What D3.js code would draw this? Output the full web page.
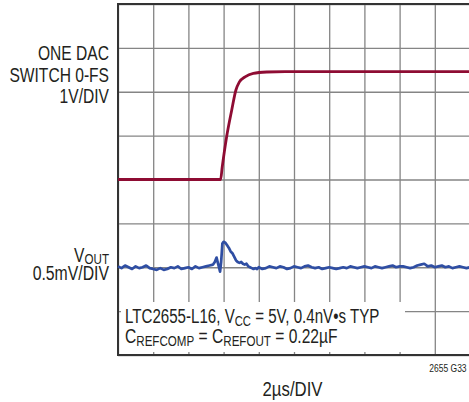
<!DOCTYPE html>
<html>
<head>
<meta charset="utf-8">
<script src="https://cdn.jsdelivr.net/npm/d3@7"></script>
<style>
  html, body { margin: 0; padding: 0; background: #fff; }
  svg { display: block; }
  text { font-family: "Liberation Sans", Arial, sans-serif; fill: #231f20; }
</style>
</head>
<body>
<svg id="chart" width="469" height="402"></svg>
<script>
// ---- Data ----
// time axis: 2 µs/DIV, 10 divisions
const xTickValues = [0, 2, 4, 6, 8, 10, 12, 14, 16, 18, 20];
// DAC switch trace (V, 1V/DIV, relative to initial level)
const redTime = [0, 5.83, 5.92, 6.17, 6.46, 6.7, 6.89, 7.22, 7.69, 8.45, 9.5, 20];
const redVolt = [0, 0, 0.28, 0.97, 1.58, 2.04, 2.22, 2.34, 2.42, 2.45, 2.46, 2.46];
// VOUT trace (mV, 0.5mV/DIV, relative)
const blueTime = [
  0, 0.2, 0.4, 0.6, 0.8, 1.0, 1.2, 1.4, 1.6, 1.8, 2.0, 2.2, 2.4, 2.6, 2.8, 3.0, 3.2, 3.4, 3.6, 3.8,
  4.0, 4.2, 4.4, 4.6, 4.8, 5.0, 5.2, 5.4,
  5.5, 5.6, 5.7, 5.8, 5.86, 5.93, 6.0, 6.1, 6.2, 6.3, 6.4, 6.5, 6.6, 6.7, 6.8, 6.9, 7.0, 7.1, 7.2,
  7.3, 7.4, 7.5, 7.6, 7.7, 7.8, 7.9,
  8.0, 8.2, 8.4, 8.6, 8.8, 9.0, 9.2, 9.4, 9.6, 9.8, 10.0, 10.2, 10.4, 10.6, 10.8, 11.0, 11.2, 11.4,
  11.6, 11.8, 12.0, 12.2, 12.4, 12.6, 12.8, 13.0, 13.2, 13.4, 13.6, 13.8, 14.0, 14.2, 14.4, 14.6,
  14.8, 15.0, 15.2, 15.4, 15.6, 15.8, 16.0, 16.2, 16.4, 16.6, 16.8, 17.0, 17.2, 17.4, 17.6, 17.8,
  18.0, 18.2, 18.4, 18.6, 18.8, 19.0, 19.2, 19.4, 19.6, 19.8, 20.0
];
const blueMv = [
  0.01, -0.01, 0.02, 0, -0.02, 0.01, -0.01, 0, 0.02, -0.01, -0.02, -0.03, -0.01, -0.03, -0.02, 0, -0.01, 0.01, -0.02, -0.01,
  0, -0.02, 0.01, -0.01, 0, 0.01, 0.02, 0.03,
  0.06, 0.11, 0.03, -0.05, 0.06, 0.27, 0.29, 0.28, 0.25, 0.22, 0.18, 0.16, 0.12, 0.08, 0.06, 0.05, 0.06, 0.04, 0.03,
  0.04, 0.01, 0.0, -0.01, -0.02, -0.01, -0.02,
  0, -0.02, -0.01, 0.01, 0, -0.01, 0.01, 0, -0.02, -0.01, 0.01, 0, -0.01, 0.01, 0.02, 0, -0.01, 0,
  -0.02, -0.01, 0, -0.01, -0.02, -0.01, 0, -0.01, 0.01, 0, -0.01, 0, 0.01, 0, -0.01, 0.01,
  0, -0.01, 0, 0.01, 0.02, 0, 0.01, 0.01, 0, -0.01, 0, 0.02, 0.03, 0.04, 0.01, 0.02,
  0, 0.01, 0.02, 0, 0.01, -0.01, 0, 0.01, 0, -0.01, 0
];
const yDivValues = [0, 1, 2, 3, 4, 5, 6, 7, 8];

const topLabel = ["ONE DAC", "SWITCH 0-FS", "1V/DIV"];
const xLabel = "2µs/DIV";
const figId = "2655 G33";

// ---- Layout ----
const svg = d3.select("#chart");
const L = 118, R = 470, T = 4, B = 355;

const x = d3.scaleLinear().domain([0, 20]).range([L, R]);
const yDiv = d3.scaleLinear().domain([0, 8]).range([B, T]);
const yRed = d3.scaleLinear().domain([-4, 4]).range([B, T]);   // 1V/DIV
const yBlue = d3.scaleLinear().domain([-1, 3]).range([B, T]);  // 0.5mV/DIV

const gridColor = "#858585";

// vertical grid
const gx = svg.append("g").attr("transform", `translate(0,${B})`)
  .call(d3.axisBottom(x).tickValues(xTickValues).tickSize(-(B - T)).tickFormat(""));
gx.select(".domain").remove();
gx.selectAll("line").attr("stroke", gridColor).attr("stroke-width", 1.3);

// horizontal grid
const gy = svg.append("g").attr("transform", `translate(${L},0)`)
  .call(d3.axisLeft(yDiv).tickValues(yDivValues).tickSize(-(R - L)).tickFormat(""));
gy.select(".domain").remove();
gy.selectAll("line").attr("stroke", gridColor).attr("stroke-width", 1.3);

// annotation box (white) covering grid in lower left
svg.append("rect")
  .attr("x", L + 3).attr("y", 302)
  .attr("width", 405 - (L + 3)).attr("height", B - 3 - 302)
  .attr("fill", "#fff");

// frame: top, left and bottom borders
svg.append("line").attr("x1", L).attr("x2", R).attr("y1", T).attr("y2", T)
  .attr("stroke", "#333").attr("stroke-width", 2);
svg.append("line").attr("x1", L).attr("x2", R).attr("y1", B).attr("y2", B)
  .attr("stroke", "#333").attr("stroke-width", 2);
svg.append("line").attr("x1", L).attr("x2", L).attr("y1", T - 1).attr("y2", B + 1)
  .attr("stroke", "#333").attr("stroke-width", 2);

// traces
const redLine = d3.line().x(d => x(d[0])).y(d => yRed(d[1])).curve(d3.curveMonotoneX);
svg.append("path")
  .datum(redTime.map((t, i) => [t, redVolt[i]]))
  .attr("d", redLine)
  .attr("fill", "none").attr("stroke", "#8e0c33").attr("stroke-width", 2.8)
  .attr("stroke-linejoin", "round");

const blueLine = d3.line().x(d => x(d[0])).y(d => yBlue(d[1]));
svg.append("path")
  .datum(blueTime.map((t, i) => [t, blueMv[i]]))
  .attr("d", blueLine)
  .attr("fill", "none").attr("stroke", "#2f4ea3").attr("stroke-width", 2.7)
  .attr("stroke-linejoin", "round");

// ---- Text (condensed look via horizontal scale) ----
const fs = 19.5, sub = 14.5;
function label(px, py, anchor, parts, scale, size = fs) {
  const g = svg.append("g").attr("transform", `translate(${px},${py}) scale(${scale},1)`);
  const t = g.append("text").attr("x", 0).attr("y", 0)
    .attr("text-anchor", anchor).attr("font-size", size);
  let shifted = false;
  parts.forEach(p => {
    const isSub = typeof p !== "string";
    const s = isSub ? p.sub : p;
    const span = t.append("tspan").text(s);
    if (isSub) {
      span.attr("font-size", sub).attr("dy", shifted ? 0 : 2.5);
      shifted = true;
    } else if (shifted) {
      span.attr("dy", -2.5);
      shifted = false;
    }
  });
  return t;
}

const topBase = [60.3, 81.7, 102.7];
topLabel.forEach((s, i) => label(109, topBase[i], "end", [s], 0.8));

label(109, 261.7, "end", ["V", { sub: "OUT" }], 0.8);
label(109, 280, "end", ["0.5mV/DIV"], 0.81);

label(125, 323.3, "start", ["LTC2655-L16, V", { sub: "CC" }, " = 5V, 0.4nV•s TYP"], 0.775);
label(125, 343.3, "start", ["C", { sub: "REFCOMP" }, " = C", { sub: "REFOUT" }, " = 0.22µF"], 0.8);

label(292.5, 396, "middle", [xLabel], 0.86);

label(429.3, 372.3, "start", [figId], 0.85, 10);
</script>
</body>
</html>
